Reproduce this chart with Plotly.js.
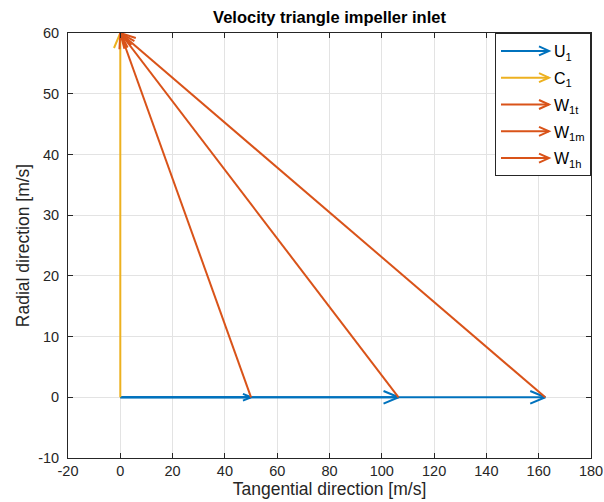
<!DOCTYPE html>
<html>
<head>
<meta charset="utf-8">
<script src="https://cdn.plot.ly/plotly-3.0.1.min.js"></script>
<style>html,body{margin:0;padding:0;background:#fff;}#chart{width:604px;height:502px;}</style>
</head>
<body>
<div id="chart"></div>
<script>
// ---- Data ----
const U1 = [50.0, 106.4, 162.5];          // blade speed at hub, mean, tip [m/s]
const C1 = 60.0;                           // absolute (radial) inlet velocity [m/s]
const wNames = ['W<sub>1t</sub>', 'W<sub>1m</sub>', 'W<sub>1h</sub>'];
const wU = [162.5, 106.4, 50.0];           // start of each relative-velocity vector on the tangential axis
const xTicks = [-20, 0, 20, 40, 60, 80, 100, 120, 140, 160, 180];
const yTicks = [-10, 0, 10, 20, 30, 40, 50, 60];

const colBlue = '#0072BD', colYellow = '#EDB120', colOrange = '#D95319';

// ---- Layout geometry ----
const W = 604, H = 502;
const M = {l: 68, r: 13, t: 33, b: 44};
const xRange = [-20, 180], yRange = [-10, 60];
const kx = (W - M.l - M.r) / (xRange[1] - xRange[0]);
const ky = (H - M.t - M.b) / (yRange[1] - yRange[0]);
const FONT = 'Liberation Sans, Arial, sans-serif';

// Build an arrow (shaft + open chevron head) from a start point and end point
function arrow(x0, y0, x1, y1) {
  const dx = (x1 - x0) * kx, dy = (y1 - y0) * ky;
  const len = Math.hypot(dx, dy);
  const ux = dx / len, uy = dy / len;
  const h = Math.min(0.062 * len, 15), w = 0.42 * h;
  const bx = -ux * h, by = -uy * h;
  const lx = x1 + (bx - uy * w) / kx, ly = y1 + (by + ux * w) / ky;
  const rx = x1 + (bx + uy * w) / kx, ry = y1 + (by - ux * w) / ky;
  return {x: [x0, x1, null, lx, x1, rx], y: [y0, y1, null, ly, y1, ry]};
}
function merge(list) {
  const out = {x: [], y: []};
  list.forEach((a, i) => {
    if (i) { out.x.push(null); out.y.push(null); }
    out.x.push(...a.x); out.y.push(...a.y);
  });
  return out;
}

const traces = [];
const uArr = merge(U1.map(u => arrow(0, 0, u, 0)));
traces.push({type: 'scatter', mode: 'lines', name: 'U<sub>1</sub>', x: uArr.x, y: uArr.y, legendgroup: 'g0',
  line: {color: colBlue, width: 2}, connectgaps: false, hoverinfo: 'skip'});
const cArr = arrow(0, 0, 0, C1);
traces.push({type: 'scatter', mode: 'lines', name: 'C<sub>1</sub>', x: cArr.x, y: cArr.y, legendgroup: 'g1',
  line: {color: colYellow, width: 2}, connectgaps: false, hoverinfo: 'skip'});
wU.forEach((u, i) => {
  const a = arrow(u, 0, 0, C1);
  traces.push({type: 'scatter', mode: 'lines', name: wNames[i], x: a.x, y: a.y, legendgroup: 'g' + (i + 2),
    line: {color: colOrange, width: 2}, connectgaps: false, hoverinfo: 'skip'});
});

const axCommon = {
  showline: true, linecolor: '#262626', linewidth: 1, mirror: 'ticks',
  ticks: 'inside', ticklen: 5, tickcolor: '#262626', tickwidth: 1,
  showgrid: true, gridcolor: '#e3e3e3', gridwidth: 1, zeroline: false,
  tickfont: {family: FONT, size: 14.5, color: '#262626'},
  automargin: false, fixedrange: true
};

const layout = {
  width: W, height: H,
  margin: M,
  paper_bgcolor: '#fff', plot_bgcolor: '#fff',
  font: {family: FONT, color: '#262626'},
  title: {text: '<b>Velocity triangle impeller inlet</b>', x: 0.5, xref: 'paper',
    y: 1 - 17 / H, yref: 'container', yanchor: 'middle',
    font: {size: 16.5, color: '#000'}},
  xaxis: Object.assign({}, axCommon, {range: xRange, tickvals: xTicks, ticktext: xTicks.map(String),
    ticklabelstandoff: 0,
    title: {text: 'Tangential direction [m/s]', font: {size: 17.5, color: '#262626'}, standoff: 0}}),
  yaxis: Object.assign({}, axCommon, {range: yRange, tickvals: yTicks, ticktext: yTicks.map(String),
    ticklabelstandoff: 5,
    title: {text: 'Radial direction [m/s]', font: {size: 17.5, color: '#262626'}, standoff: 4}}),
  legend: {x: 1, xanchor: 'right', y: 1, yanchor: 'top', bgcolor: '#fff',
    bordercolor: '#262626', borderwidth: 1,
    font: {family: FONT, size: 16, color: '#000'},
    tracegroupgap: 3, itemwidth: 48},
  showlegend: true
};

Plotly.newPlot('chart', traces, layout, {displayModeBar: false, staticPlot: true}).then(gd => {
  // add open arrowheads to the legend line samples (as MATLAB quiver legends show)
  const NS = 'http://www.w3.org/2000/svg';
  gd.querySelectorAll('.legend .traces').forEach(tr => {
    const ln = tr.querySelector('.legendlines path');
    if (!ln) return;
    const bb = ln.getBBox();
    const x2 = bb.x + bb.width;
    const p = document.createElementNS(NS, 'path');
    p.setAttribute('d', `M${x2 - 10},-4.5L${x2},0L${x2 - 10},4.5`);
    p.setAttribute('fill', 'none');
    p.setAttribute('stroke', ln.style.stroke || ln.getAttribute('stroke'));
    p.setAttribute('stroke-width', '2');
    ln.parentNode.appendChild(p);
  });
});
</script>
</body>
</html>
